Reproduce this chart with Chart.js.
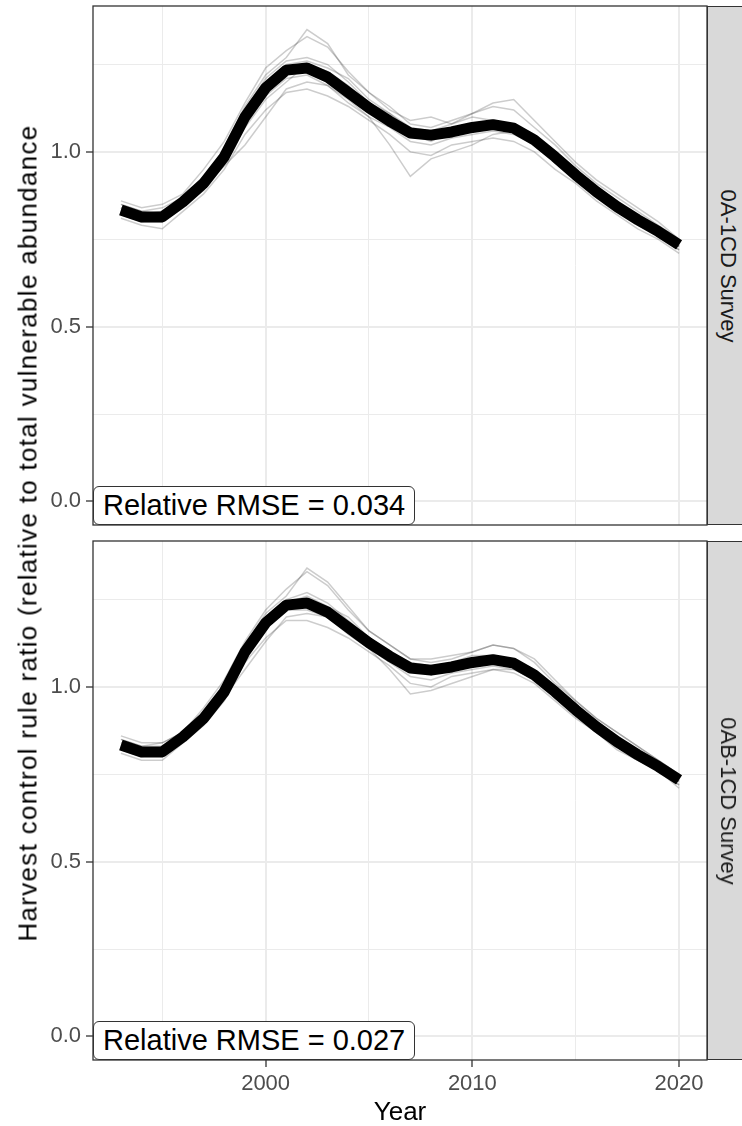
<!DOCTYPE html>
<html>
<head>
<meta charset="utf-8">
<script src="https://cdn.jsdelivr.net/npm/chart.js@4"></script>
<style>
  body { margin: 0; background: #fff; width: 742px; height: 1126px; overflow: hidden; position: relative; font-family: 'Liberation Sans', Arial, sans-serif; }
  canvas { position: absolute; left: 0; }
  #topChart { top: 0; }
  #bottomChart { top: 535px; }
  .strip { position: absolute; left: 707px; width: 40px; height: 517px; background: #d9d9d9; border: 1px solid #333; }
  .strip span { position: absolute; left: 50%; top: 50%; transform: translate(-50%, -50%) rotate(90deg); white-space: nowrap; font-size: 22px; color: #1a1a1a; }
  .rmse { position: absolute; left: 93px; height: 37px; line-height: 37px; padding: 0 9px; background: #fff; border: 1.3px solid #333; border-radius: 6px; font-size: 29px; color: #000; white-space: nowrap; }
  #ytitle { position: absolute; left: 28px; top: 533px; transform: translate(-50%, -50%) rotate(-90deg); white-space: nowrap; font-size: 26px; letter-spacing: 1.3px; color: #000; }
  #xtitle { position: absolute; left: 400px; top: 1096px; transform: translateX(-50%); font-size: 26px; color: #000; }
</style>
</head>
<body>
<canvas id="topChart" width="708" height="528"></canvas>
<canvas id="bottomChart" width="708" height="575"></canvas>
<div class="strip" style="top: 6px;"><span>0A-1CD Survey</span></div>
<div class="strip" style="top: 541px;"><span>0AB-1CD Survey</span></div>
<div class="rmse" style="top: 486px;">Relative RMSE = 0.034</div>
<div class="rmse" style="top: 1021px;">Relative RMSE = 0.027</div>
<div id="ytitle">Harvest control rule ratio (relative to total vulnerable abundance</div>
<div id="xtitle">Year</div>
<script>
const years = [1993, 1994, 1995, 1996, 1997, 1998, 1999, 2000, 2001, 2002, 2003, 2004, 2005, 2006,
               2007, 2008, 2009, 2010, 2011, 2012, 2013, 2014, 2015, 2016, 2017, 2018, 2019, 2020];

const xTicks = [1995, 2000, 2005, 2010, 2015, 2020];
const xMajor = [2000, 2010, 2020];
const yTicks = [0, 0.25, 0.5, 0.75, 1.0, 1.25];
const yMajor = [0, 0.5, 1.0];

// 0A-1CD Survey: median trajectory + individual replicates
const meanA = [0.834, 0.814, 0.814, 0.857, 0.91, 0.986, 1.10, 1.183, 1.234, 1.24, 1.214, 1.17, 1.126, 1.088,
               1.054, 1.048, 1.057, 1.07, 1.078, 1.068, 1.034, 0.986, 0.934, 0.886, 0.843, 0.806, 0.772, 0.734];
const simsA = [
    [.86, .84, .85, .88, .95, 1.03, 1.14, 1.24, 1.29, 1.33, 1.30, 1.23, 1.17, 1.12, 1.09, 1.10, 1.08, 1.11, 1.13, 1.12, 1.07, 1.02, .96, .91, .87, .83, .79, .75],
    [.81, .79, .78, .83, .88, .95, 1.05, 1.12, 1.17, 1.18, 1.16, 1.13, 1.09, 1.05, 1.00, .99, 1.02, 1.03, 1.04, 1.03, 1.00, .95, .91, .86, .82, .78, .75, .71],
    [.85, .83, .82, .87, .93, 1.00, 1.12, 1.21, 1.26, 1.27, 1.25, 1.20, 1.14, 1.11, 1.07, 1.06, 1.08, 1.10, 1.09, 1.08, 1.05, 1.00, .95, .90, .86, .82, .78, .74],
    [.82, .80, .80, .84, .90, .97, 1.08, 1.16, 1.21, 1.22, 1.19, 1.15, 1.10, 1.07, 1.03, 1.02, 1.04, 1.05, 1.06, 1.05, 1.02, .97, .92, .87, .83, .79, .76, .72],
    [.84, .82, .83, .86, .92, .99, 1.09, 1.19, 1.25, 1.26, 1.24, 1.21, 1.15, 1.11, 1.06, 1.04, 1.06, 1.07, 1.09, 1.07, 1.04, .99, .94, .89, .85, .81, .77, .73],
    [.83, .81, .80, .85, .90, .96, 1.02, 1.10, 1.18, 1.20, 1.19, 1.14, 1.10, 1.02, .93, .98, 1.00, 1.02, 1.05, 1.06, 1.02, .98, .92, .88, .83, .80, .76, .72],
    [.85, .83, .84, .87, .92, 1.01, 1.13, 1.22, 1.27, 1.35, 1.31, 1.22, 1.17, 1.13, 1.08, 1.07, 1.09, 1.11, 1.14, 1.15, 1.09, 1.03, .97, .92, .88, .84, .80, .75],
    [.83, .82, .82, .85, .91, .98, 1.10, 1.17, 1.22, 1.24, 1.22, 1.18, 1.14, 1.09, 1.05, 1.05, 1.05, 1.07, 1.08, 1.07, 1.03, .99, .93, .88, .84, .80, .77, .73],
    [.84, .80, .81, .86, .92, .99, 1.11, 1.20, 1.24, 1.23, 1.20, 1.16, 1.12, 1.08, 1.06, 1.04, 1.05, 1.06, 1.07, 1.06, 1.04, .98, .93, .89, .84, .81, .77, .74],
    [.82, .82, .81, .85, .89, .97, 1.07, 1.15, 1.20, 1.25, 1.23, 1.19, 1.13, 1.10, 1.05, 1.03, 1.06, 1.08, 1.07, 1.07, 1.03, .98, .94, .89, .85, .80, .77, .73]
];

// 0AB-1CD Survey
const meanB = [0.834, 0.814, 0.814, 0.857, 0.91, 0.986, 1.10, 1.183, 1.234, 1.24, 1.214, 1.17, 1.126, 1.088,
               1.054, 1.048, 1.057, 1.07, 1.078, 1.068, 1.034, 0.986, 0.934, 0.886, 0.843, 0.806, 0.772, 0.734];
const simsB = [
    [.86, .84, .84, .87, .94, 1.02, 1.13, 1.22, 1.28, 1.33, 1.29, 1.22, 1.16, 1.12, 1.08, 1.08, 1.09, 1.10, 1.12, 1.11, 1.07, 1.01, .96, .91, .87, .83, .79, .75],
    [.81, .79, .79, .84, .89, .96, 1.07, 1.14, 1.19, 1.19, 1.17, 1.14, 1.10, 1.06, 1.01, 1.00, 1.03, 1.04, 1.05, 1.04, 1.01, .96, .91, .87, .82, .79, .76, .71],
    [.85, .83, .83, .86, .92, 1.00, 1.11, 1.20, 1.25, 1.27, 1.24, 1.19, 1.14, 1.10, 1.07, 1.06, 1.07, 1.09, 1.09, 1.08, 1.05, 1.00, .95, .90, .86, .82, .78, .74],
    [.82, .80, .81, .85, .90, .97, 1.09, 1.17, 1.22, 1.22, 1.20, 1.16, 1.11, 1.07, 1.03, 1.02, 1.04, 1.05, 1.06, 1.05, 1.02, .97, .92, .87, .83, .79, .76, .72],
    [.84, .82, .82, .86, .92, .99, 1.10, 1.19, 1.24, 1.26, 1.23, 1.20, 1.14, 1.10, 1.06, 1.04, 1.06, 1.08, 1.08, 1.07, 1.04, .99, .94, .89, .85, .81, .77, .73],
    [.83, .81, .80, .85, .90, .97, 1.05, 1.13, 1.20, 1.21, 1.20, 1.15, 1.11, 1.05, .98, .99, 1.01, 1.03, 1.05, 1.05, 1.02, .98, .93, .88, .84, .80, .76, .72],
    [.85, .83, .84, .87, .92, 1.00, 1.12, 1.21, 1.26, 1.34, 1.30, 1.23, 1.16, 1.12, 1.08, 1.07, 1.08, 1.10, 1.12, 1.11, 1.08, 1.02, .96, .91, .87, .83, .79, .75],
    [.83, .82, .81, .85, .91, .98, 1.10, 1.18, 1.23, 1.24, 1.22, 1.18, 1.13, 1.09, 1.05, 1.05, 1.06, 1.07, 1.08, 1.07, 1.03, .99, .93, .88, .84, .80, .77, .73]
];

Chart.defaults.font.family = "'Liberation Sans', Arial, sans-serif";
Chart.defaults.animation = false;

const toPoints = vals => vals.map((v, i) => ({ x: years[i], y: v }));

// drop the label overflow padding Chart.js adds, so the panel fills the canvas
const noPad = s => { s.paddingTop = 0; s.paddingBottom = 0; s.paddingLeft = 0; s.paddingRight = 0; };

// ggplot-like panel border drawn over the data
const panelBorder = {
    id: 'panelBorder',
    afterDatasetsDraw(chart) {
        const { ctx, chartArea: a } = chart;
        ctx.save();
        ctx.strokeStyle = '#333333';
        ctx.lineWidth = 1.3;
        ctx.strokeRect(a.left, a.top, a.right - a.left, a.bottom - a.top);
        ctx.restore();
    }
};

function makePanel(canvasId, mean, sims, showX) {
    const datasets = sims.map(s => ({
        data: toPoints(s),
        borderColor: 'rgba(0, 0, 0, 0.2)',
        borderWidth: 1.5,
        pointRadius: 0,
        tension: 0
    }));
    datasets.push({
        data: toPoints(mean),
        borderColor: '#000000',
        borderWidth: 11,
        borderCapStyle: 'butt',
        borderJoinStyle: 'round',
        pointRadius: 0,
        tension: 0
    });

    return new Chart(document.getElementById(canvasId), {
        type: 'line',
        data: { datasets: datasets },
        options: {
            responsive: false,
            layout: { padding: { top: 6, right: 1, bottom: showX ? 0 : 3, left: 0 } },
            plugins: { legend: { display: false }, tooltip: { enabled: false } },
            scales: {
                x: {
                    type: 'linear',
                    min: 1991.65,
                    max: 2021.35,
                    afterBuildTicks: s => { s.ticks = xTicks.map(v => ({ value: v })); },
                    afterFit: s => { s.height = showX ? 50 : 0; noPad(s); },
                    border: { display: false },
                    grid: {
                        color: '#ebebeb',
                        lineWidth: ctx => xMajor.includes(ctx.tick.value) ? 2 : 1,
                        drawTicks: showX,
                        tickLength: 7,
                        tickWidth: 1.3,
                        tickColor: ctx => xMajor.includes(ctx.tick.value) ? '#333333' : 'rgba(0,0,0,0)'
                    },
                    ticks: {
                        display: showX,
                        autoSkip: false,
                        maxRotation: 0,
                        padding: 4,
                        color: '#4d4d4d',
                        font: { size: 22 },
                        callback: v => xMajor.includes(v) ? String(v) : ''
                    }
                },
                y: {
                    min: -0.0675,
                    max: 1.4175,
                    afterBuildTicks: s => { s.ticks = yTicks.map(v => ({ value: v })); },
                    afterFit: s => { s.width = 93; noPad(s); },
                    border: { display: false },
                    grid: {
                        color: '#ebebeb',
                        lineWidth: ctx => yMajor.includes(ctx.tick.value) ? 2 : 1,
                        tickLength: 7,
                        tickWidth: 1.3,
                        tickColor: ctx => yMajor.includes(ctx.tick.value) ? '#333333' : 'rgba(0,0,0,0)'
                    },
                    ticks: {
                        autoSkip: false,
                        padding: 5,
                        color: '#4d4d4d',
                        font: { size: 22 },
                        callback: v => yMajor.includes(v) ? v.toFixed(1) : ''
                    }
                }
            }
        },
        plugins: [panelBorder]
    });
}

makePanel('topChart', meanA, simsA, false);
makePanel('bottomChart', meanB, simsB, true);
</script>
</body>
</html>
